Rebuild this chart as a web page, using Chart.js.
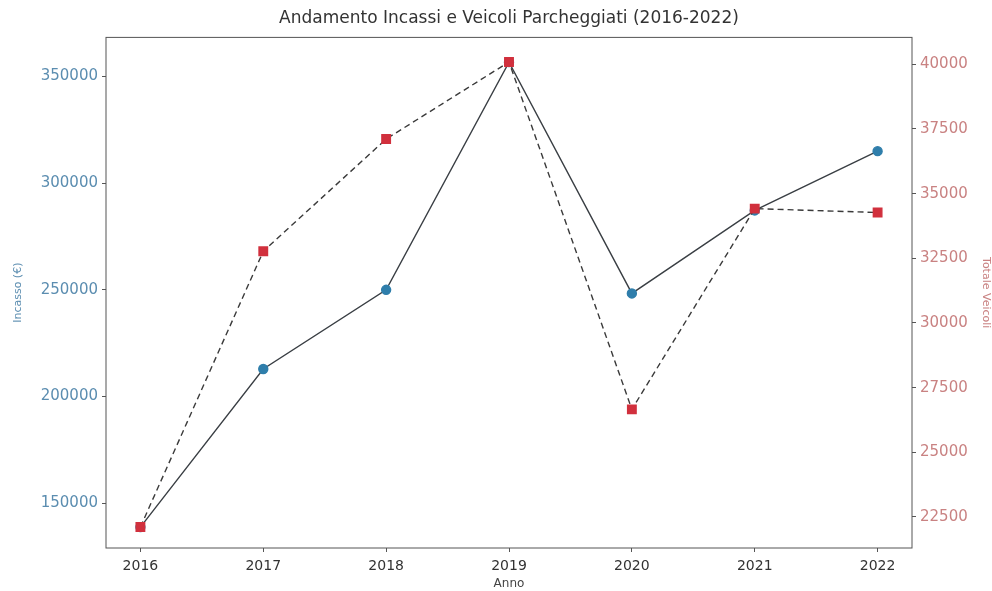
<!DOCTYPE html>
<html>
<head>
<meta charset="utf-8">
<script src="https://cdn.jsdelivr.net/npm/chart.js@4/dist/chart.umd.min.js"></script>
<style>
  html, body { margin: 0; padding: 0; background: #fff; }
  #wrap { width: 992px; height: 591px; }
</style>
</head>
<body>
<div id="wrap"><canvas id="chart"></canvas></div>
<script>
// values
const anni = [2016, 2017, 2018, 2019, 2020, 2021, 2022];
const incassi = [138800, 212900, 250000, 356700, 248300, 287200, 315000];
const veicoli = [22110, 32770, 37110, 40090, 26660, 34420, 34270];
const ticksIncassi = [150000, 200000, 250000, 300000, 350000];
const ticksVeicoli = [22500, 25000, 27500, 30000, 32500, 35000, 37500, 40000];

const FONT = "'DejaVu Sans', Lato, sans-serif";
const blu = '#5b8db0';
const rosso = '#c98282';

// box round the plot, like the matplotlib spines
const spines = {
  id: 'spines',
  afterDraw(chart) {
    const a = chart.chartArea;
    const ctx = chart.ctx;
    ctx.save();
    ctx.strokeStyle = '#555';
    ctx.lineWidth = 1;
    ctx.strokeRect(a.left, a.top, a.right - a.left, a.bottom - a.top);
    ctx.restore();
  }
};

const setTicks = (list) => (scale) => {
  scale.ticks = list.map(v => ({ value: v }));
};

new Chart(document.getElementById('chart'), {
  type: 'line',
  data: {
    datasets: [
      {
        label: 'Incasso (€)',
        data: anni.map((a, i) => ({ x: a, y: incassi[i] })),
        yAxisID: 'y',
        borderColor: '#3a3f44',
        borderWidth: 1.4,
        pointStyle: 'circle',
        pointRadius: 4.5,
        pointBackgroundColor: '#2f7eab',
        pointBorderColor: '#2f7eab',
        order: 1
      },
      {
        label: 'Totale Veicoli',
        data: anni.map((a, i) => ({ x: a, y: veicoli[i] })),
        yAxisID: 'y1',
        borderColor: '#3a3a3a',
        borderWidth: 1.4,
        borderDash: [6, 4],
        pointStyle: 'rect',
        pointRadius: 6,
        pointBackgroundColor: '#d1303d',
        pointBorderColor: '#d1303d',
        order: 0
      }
    ]
  },
  options: {
    responsive: true,
    maintainAspectRatio: false,
    animation: false,
    layout: { padding: { left: 0, right: 0, top: 0, bottom: 0 } },
    plugins: {
      legend: { display: false },
      tooltip: { enabled: false },
      title: {
        display: true,
        fullSize: false,
        text: 'Andamento Incassi e Veicoli Parcheggiati (2016-2022)',
        color: '#333',
        font: { family: FONT, size: 17, weight: 'normal' },
        padding: { top: 8, bottom: 9 }
      }
    },
    scales: {
      x: {
        type: 'linear',
        min: 2015.72,
        max: 2022.28,
        afterBuildTicks: setTicks(anni),
        afterFit(scale) { scale.height = 43; },
        grid: { drawOnChartArea: false, tickLength: 4, color: '#555' },
        border: { display: false },
        ticks: {
          color: '#333',
          font: { family: FONT, size: 14 },
          padding: 6,
          callback: v => String(v)
        },
        title: {
          display: true,
          text: 'Anno',
          color: '#444',
          font: { family: FONT, size: 12 },
          padding: { top: 2, bottom: 0 }
        }
      },
      y: {
        position: 'left',
        min: 129000,
        max: 368300,
        afterBuildTicks: setTicks(ticksIncassi),
        afterFit(scale) { scale.width = 106; },
        grid: { drawOnChartArea: false, tickLength: 4, color: '#555' },
        border: { display: false },
        ticks: {
          color: blu,
          font: { family: FONT, size: 15 },
          padding: 4,
          callback: v => String(v)
        },
        title: {
          display: true,
          text: 'Incasso (€)',
          color: blu,
          font: { family: FONT, size: 11 },
          padding: { top: 12, bottom: 0 }
        }
      },
      y1: {
        position: 'right',
        min: 21300,
        max: 41040,
        afterBuildTicks: setTicks(ticksVeicoli),
        afterFit(scale) { scale.width = 80; },
        grid: { drawOnChartArea: false, tickLength: 4, color: '#555' },
        border: { display: false },
        ticks: {
          color: rosso,
          font: { family: FONT, size: 15 },
          padding: 4,
          callback: v => String(v)
        },
        title: {
          display: true,
          text: 'Totale Veicoli',
          color: rosso,
          font: { family: FONT, size: 11 },
          padding: { top: 0, bottom: 0 }
        }
      }
    }
  },
  plugins: [spines]
});
</script>
</body>
</html>
